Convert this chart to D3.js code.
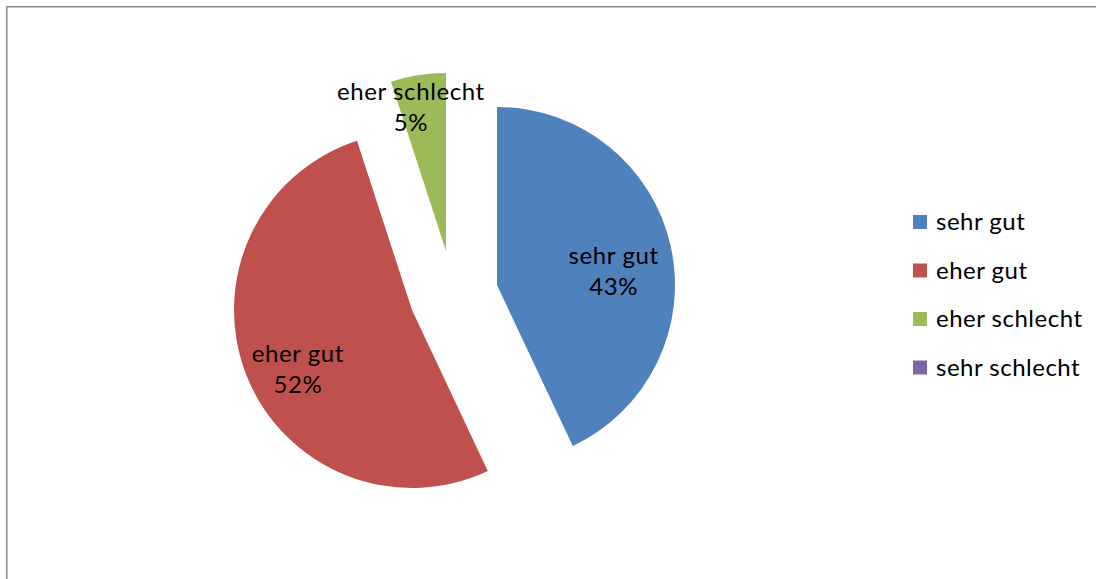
<!DOCTYPE html>
<html>
<head>
<meta charset="utf-8">
<script src="https://cdn.jsdelivr.net/npm/d3@7"></script>
<style>
  html, body { margin: 0; padding: 0; background: #fff; }
  svg { display: block; }
</style>
</head>
<body>
<div id="chart"></div>
<script>
// data
const categories = ['sehr gut', 'eher gut', 'eher schlecht', 'sehr schlecht'];
const values = [43, 52, 5, 0];
const colors = ['#4F81BD', '#C0504D', '#9BBB59', '#8064A2'];

// layout: slice offsets from the pie centre (exploded pie)
const explode = [[85, -25], [0, 0], [34, -59], [0, 0]];
const labelPos = [0.66, 0.72, 0.83, 0.7];
const labelNudge = [[2, 12], [5, 12], [-12, 2], [0, 0]];

const width = 1096;
const height = 579;
const cx = 412, cy = 310, radius = 178;
const font = 'Lato, "Open Sans", sans-serif';

document.addEventListener("DOMContentLoaded", function() {
  piechart();
});

function piechart() {
  const svg = d3.select('#chart')
    .append('svg')
    .attr('width', width)
    .attr('height', height);

  // chart frame
  svg.append('rect')
    .attr('x', 6.75).attr('y', 6.75)
    .attr('width', width + 20).attr('height', height + 20)
    .attr('fill', 'none')
    .attr('stroke', '#8a8a8a')
    .attr('stroke-width', 1.5);

  const data = categories.map((c, i) => ({ name: c, value: values[i], i: i }));

  const pie = d3.pie()
    .value(d => d.value)
    .sort(null)
    .startAngle(0)
    .endAngle(2 * Math.PI);

  const arcs = pie(data);
  const total = d3.sum(values);

  const arc = d3.arc().innerRadius(0).outerRadius(radius);

  const slices = svg.append('g')
    .selectAll('g')
    .data(arcs.filter(d => d.data.value > 0))
    .join('g')
      .attr('transform', d => `translate(${cx + explode[d.data.i][0]},${cy + explode[d.data.i][1]})`);

  slices.append('path')
    .attr('d', arc)
    .attr('fill', d => colors[d.data.i]);

  // labels
  slices.each(function(d) {
    const i = d.data.i;
    const r = radius * labelPos[i];
    const a = (d.startAngle + d.endAngle) / 2;
    const x = Math.sin(a) * r + labelNudge[i][0];
    const y = -Math.cos(a) * r + labelNudge[i][1];
    const t = d3.select(this).append('text')
      .attr('text-anchor', 'middle')
      .attr('font-family', font)
      .attr('font-size', '24px')
      .attr('letter-spacing', '0.6px')
      .attr('fill', '#000');
    t.append('tspan').attr('x', x).attr('y', y - 7).text(d.data.name);
    t.append('tspan').attr('x', x).attr('y', y + 24)
      .text(Math.round(d.data.value / total * 100) + '%');
  });

  // legend
  const legend = svg.append('g')
    .attr('transform', 'translate(913,215)');

  const item = legend.selectAll('g')
    .data(categories)
    .join('g')
      .attr('transform', (d, i) => `translate(0,${i * 48.5})`);

  item.append('rect')
    .attr('width', 14).attr('height', 14)
    .attr('fill', (d, i) => colors[i]);

  item.append('text')
    .attr('x', 23).attr('y', 15)
    .attr('font-family', font)
    .attr('font-size', '24px')
    .attr('letter-spacing', '0.5px')
    .attr('fill', '#000')
    .text(d => d);
}
</script>
</body>
</html>
